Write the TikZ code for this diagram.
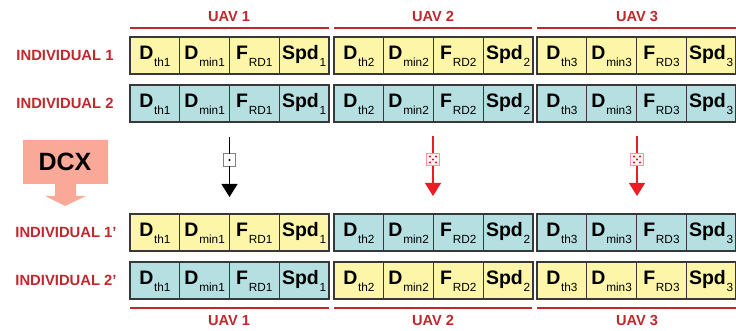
\documentclass[tikz,border=0pt]{standalone}
\usepackage{fontspec}
\setmainfont{Liberation Sans}
\usetikzlibrary{arrows.meta}
\definecolor{GeneYellow}{HTML}{FDF6A8}
\definecolor{GeneBlue}{HTML}{B5DFE1}
\definecolor{LabelRed}{HTML}{C1272D}
\definecolor{SwapRed}{HTML}{ED1C24}
\definecolor{DcxRed}{HTML}{FAA999}
\newcommand{\Gene}[2]{{\fontsize{19.5}{20}\selectfont\bfseries #1}\kern0.8pt\raisebox{-6.5pt}{\fontsize{11.8}{12}\selectfont #2}}

\begin{document}
\begin{tikzpicture}[x=1pt,y=1pt]
  \tikzset{CellStyle/.style = {
    shape         = rectangle,
    draw          = black!78,
    line width    = 1.3pt,
    text          = black,
    inner sep     = 0pt,
    outer sep     = 0pt,
    minimum width = 49.75pt,
    minimum height= 37pt,
    text height   = 13pt,
    text depth    = 4pt
    }
  }
  \tikzset{YellowStyle/.style = {CellStyle, fill = GeneYellow}}
  \tikzset{BlueStyle/.style = {CellStyle, fill = GeneBlue}}
  \tikzset{RowLabelStyle/.style = {
    text        = LabelRed,
    inner sep   = 0pt,
    text height = 10.5pt,
    text depth  = 0pt,
    font        = \fontsize{14.8}{15}\selectfont\bfseries
    }
  }
  \tikzset{UavLabelStyle/.style = {
    text        = LabelRed,
    inner sep   = 0pt,
    text height = 10.5pt,
    text depth  = 0pt,
    font        = \fontsize{14.6}{15}\selectfont\bfseries
    }
  }
  \tikzset{UavLineStyle/.style = {
    draw       = LabelRed,
    line width = 1.2pt
    }
  }
  \tikzset{DiceStyle/.style = {
    shape        = rectangle,
    line width   = 0.9pt,
    inner sep    = 0pt,
    outer sep    = 0pt,
    minimum size = 12.5pt
    }
  }
  \tikzset{SwapStyle/.style = {
    line width = 1.3pt,
    -{Triangle[width=16pt,length=13pt]}
    }
  }

  \useasboundingbox (0,0) rectangle (736,331);

  % uav headers
  \node[UavLabelStyle](U1) at (229, 314.5) {UAV 1};
  \node[UavLabelStyle](U2) at (433, 314.5) {UAV 2};
  \node[UavLabelStyle](U3) at (637, 314.5) {UAV 3};
  \coordinate (P1) at (130, 303);
  \coordinate (P2) at (329, 303);
  \coordinate (P3) at (334, 303);
  \coordinate (P4) at (532, 303);
  \coordinate (P5) at (537, 303);
  \coordinate (P6) at (736, 303);
  \draw[UavLineStyle](P1) -- (P2);
  \draw[UavLineStyle](P3) -- (P4);
  \draw[UavLineStyle](P5) -- (P6);

  % row labels
  \node[RowLabelStyle](L1) at (65, 275.5) {INDIVIDUAL 1};
  \node[RowLabelStyle](L2) at (65, 227.5) {INDIVIDUAL 2};
  \node[RowLabelStyle](L3) at (66, 98.5) {INDIVIDUAL 1'};
  \node[RowLabelStyle](L4) at (66, 50.5) {INDIVIDUAL 2'};

  % individual 1
  \node[YellowStyle](A1) at (154.9, 275.5) {\Gene{D}{th1}};
  \node[YellowStyle](A2) at (204.6, 275.5) {\Gene{D}{min1}};
  \node[YellowStyle](A3) at (254.4, 275.5) {\Gene{F}{RD1}};
  \node[YellowStyle](A4) at (304.1, 275.5) {\Gene{Spd}{1}};
  \node[YellowStyle](A5) at (358.9, 275.5) {\Gene{D}{th2}};
  \node[YellowStyle](A6) at (408.6, 275.5) {\Gene{D}{min2}};
  \node[YellowStyle](A7) at (458.4, 275.5) {\Gene{F}{RD2}};
  \node[YellowStyle](A8) at (508.1, 275.5) {\Gene{Spd}{2}};
  \node[YellowStyle](A9) at (561.9, 275.5) {\Gene{D}{th3}};
  \node[YellowStyle](A10) at (611.6, 275.5) {\Gene{D}{min3}};
  \node[YellowStyle](A11) at (661.4, 275.5) {\Gene{F}{RD3}};
  \node[YellowStyle](A12) at (711.1, 275.5) {\Gene{Spd}{3}};

  % individual 2
  \node[BlueStyle](B1) at (154.9, 227.5) {\Gene{D}{th1}};
  \node[BlueStyle](B2) at (204.6, 227.5) {\Gene{D}{min1}};
  \node[BlueStyle](B3) at (254.4, 227.5) {\Gene{F}{RD1}};
  \node[BlueStyle](B4) at (304.1, 227.5) {\Gene{Spd}{1}};
  \node[BlueStyle](B5) at (358.9, 227.5) {\Gene{D}{th2}};
  \node[BlueStyle](B6) at (408.6, 227.5) {\Gene{D}{min2}};
  \node[BlueStyle](B7) at (458.4, 227.5) {\Gene{F}{RD2}};
  \node[BlueStyle](B8) at (508.1, 227.5) {\Gene{Spd}{2}};
  \node[BlueStyle](B9) at (561.9, 227.5) {\Gene{D}{th3}};
  \node[BlueStyle](B10) at (611.6, 227.5) {\Gene{D}{min3}};
  \node[BlueStyle](B11) at (661.4, 227.5) {\Gene{F}{RD3}};
  \node[BlueStyle](B12) at (711.1, 227.5) {\Gene{Spd}{3}};

  % offspring 1
  \node[YellowStyle](C1) at (154.9, 98.5) {\Gene{D}{th1}};
  \node[YellowStyle](C2) at (204.6, 98.5) {\Gene{D}{min1}};
  \node[YellowStyle](C3) at (254.4, 98.5) {\Gene{F}{RD1}};
  \node[YellowStyle](C4) at (304.1, 98.5) {\Gene{Spd}{1}};
  \node[BlueStyle](C5) at (358.9, 98.5) {\Gene{D}{th2}};
  \node[BlueStyle](C6) at (408.6, 98.5) {\Gene{D}{min2}};
  \node[BlueStyle](C7) at (458.4, 98.5) {\Gene{F}{RD2}};
  \node[BlueStyle](C8) at (508.1, 98.5) {\Gene{Spd}{2}};
  \node[BlueStyle](C9) at (561.9, 98.5) {\Gene{D}{th3}};
  \node[BlueStyle](C10) at (611.6, 98.5) {\Gene{D}{min3}};
  \node[BlueStyle](C11) at (661.4, 98.5) {\Gene{F}{RD3}};
  \node[BlueStyle](C12) at (711.1, 98.5) {\Gene{Spd}{3}};

  % offspring 2
  \node[BlueStyle](D1) at (154.9, 50.5) {\Gene{D}{th1}};
  \node[BlueStyle](D2) at (204.6, 50.5) {\Gene{D}{min1}};
  \node[BlueStyle](D3) at (254.4, 50.5) {\Gene{F}{RD1}};
  \node[BlueStyle](D4) at (304.1, 50.5) {\Gene{Spd}{1}};
  \node[YellowStyle](D5) at (358.9, 50.5) {\Gene{D}{th2}};
  \node[YellowStyle](D6) at (408.6, 50.5) {\Gene{D}{min2}};
  \node[YellowStyle](D7) at (458.4, 50.5) {\Gene{F}{RD2}};
  \node[YellowStyle](D8) at (508.1, 50.5) {\Gene{Spd}{2}};
  \node[YellowStyle](D9) at (561.9, 50.5) {\Gene{D}{th3}};
  \node[YellowStyle](D10) at (611.6, 50.5) {\Gene{D}{min3}};
  \node[YellowStyle](D11) at (661.4, 50.5) {\Gene{F}{RD3}};
  \node[YellowStyle](D12) at (711.1, 50.5) {\Gene{Spd}{3}};

  % dcx arrow
  \fill[DcxRed] (23,191) -- (108,191) -- (108,147) -- (76,147) -- (76,135)
    -- (86,135) -- (65,125) -- (45,135) -- (55,135) -- (55,147) -- (23,147) -- cycle;
  \node[inner sep=0pt, font=\fontsize{25}{25}\selectfont\bfseries](X1) at (65, 169) {DCX};

  % swap arrows
  \node[DiceStyle, draw=black!50, fill=white](K1) at (229.5, 171) {};
  \node[DiceStyle, draw=SwapRed!45, fill=SwapRed!6](K2) at (433, 171.5) {};
  \node[DiceStyle, draw=SwapRed!45, fill=SwapRed!6](K3) at (637, 171.5) {};
  \coordinate (S1) at (229.5, 194);
  \coordinate (E1) at (229.5, 134);
  \coordinate (S2) at (433, 195);
  \coordinate (E2) at (433, 135);
  \coordinate (S3) at (637, 195);
  \coordinate (E3) at (637, 135);
  \draw[line width=1.3pt, black](S1) -- (K1);
  \draw[SwapStyle, black](K1) -- (E1);
  \draw[line width=1.3pt, SwapRed](S2) -- (K2);
  \draw[SwapStyle, SwapRed](K2) -- (E2);
  \draw[line width=1.3pt, SwapRed](S3) -- (K3);
  \draw[SwapStyle, SwapRed](K3) -- (E3);

  % dice pips
  \fill[black] (K1) circle[radius=1.2pt];
  \foreach \dx/\dy in {0/0,-3/-3,3/-3,-3/3,3/3}{
    \fill[SwapRed!85!black] ([shift={(\dx,\dy)}]K2.center) circle[radius=1.1pt];
    \fill[SwapRed!85!black] ([shift={(\dx,\dy)}]K3.center) circle[radius=1.1pt];
  }

  % uav footers
  \coordinate (Q1) at (130, 23);
  \coordinate (Q2) at (329, 23);
  \coordinate (Q3) at (334, 23);
  \coordinate (Q4) at (532, 23);
  \coordinate (Q5) at (537, 23);
  \coordinate (Q6) at (736, 23);
  \draw[UavLineStyle](Q1) -- (Q2);
  \draw[UavLineStyle](Q3) -- (Q4);
  \draw[UavLineStyle](Q5) -- (Q6);
  \node[UavLabelStyle](V1) at (229, 11) {UAV 1};
  \node[UavLabelStyle](V2) at (433, 11) {UAV 2};
  \node[UavLabelStyle](V3) at (637, 11) {UAV 3};
\end{tikzpicture}
\end{document}
